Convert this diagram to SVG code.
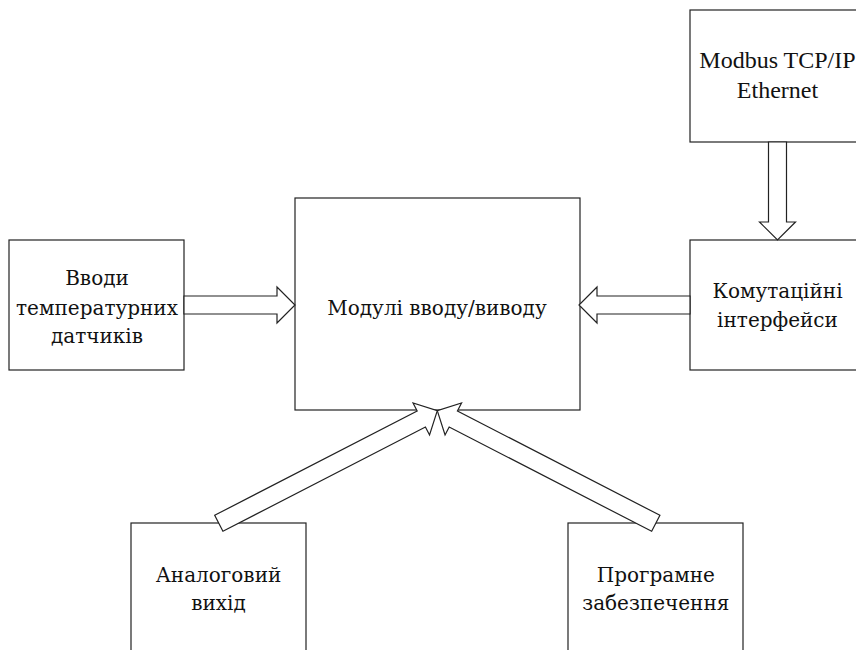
<svg xmlns="http://www.w3.org/2000/svg" width="856" height="650" viewBox="0 0 856 650">
<style>
.box{fill:#fff;stroke:#222;stroke-width:1.2}
.arr{fill:#fff;stroke:#222;stroke-width:1.2;stroke-linejoin:miter}
text{font-family:"Liberation Serif","Times New Roman",serif;font-size:24px;fill:#111;text-anchor:middle}
text.c{font-family:"DejaVu Serif","Liberation Serif",serif;font-size:20px}
</style>
<rect width="856" height="650" fill="#fff"/>
<g id="modbus"><rect class="box" x="690" y="10" width="175" height="132"/>
<text x="777.5" y="68">Modbus TCP/IP</text><text x="777.5" y="98">Ethernet</text></g>
<g id="komut"><rect class="box" x="690" y="240" width="175" height="130"/>
<text class="c" x="777.5" y="298">Комутаційні</text><text class="c" x="777.5" y="327">інтерфейси</text></g>
<g id="modules"><rect class="box" x="295" y="198" width="285" height="212"/>
<text class="c" x="437" y="315">Модулі вводу/виводу</text></g>
<g id="inputs"><rect class="box" x="9" y="240" width="175" height="130"/>
<text class="c" x="97" y="285">Вводи</text><text class="c" x="97" y="315">температурних</text><text class="c" x="97" y="343">датчиків</text></g>
<g id="analog"><rect class="box" x="131" y="523" width="175" height="140"/>
<text class="c" x="218.5" y="582">Аналоговий</text><text class="c" x="218.5" y="610">вихід</text></g>
<g id="software"><rect class="box" x="568" y="523" width="175" height="140"/>
<text class="c" x="655.8" y="582">Програмне</text><text class="c" x="655.8" y="610">забезпечення</text></g>
<g id="connectors">
<polygon class="arr" points="184,296 277,296 277,287 295,305 277,323 277,314 184,314"/>
<polygon class="arr" points="690,296 597,296 597,287 579,305 597,323 597,314 690,314"/>
<polygon class="arr" points="768.5,142 786.5,142 786.5,222 795.5,222 777.5,240 759.5,222 768.5,222"/>
<g transform="translate(218.8,523.3) rotate(-27.26)">
<polygon class="arr" points="0,-9 227.8,-9 227.8,-18 245.8,0 227.8,18 227.8,9 0,9"/>
</g>
<g transform="translate(655.8,523.3) rotate(-152.74)">
<polygon class="arr" points="0,-9 227.8,-9 227.8,-18 245.8,0 227.8,18 227.8,9 0,9"/>
</g>
</g>
</svg>
